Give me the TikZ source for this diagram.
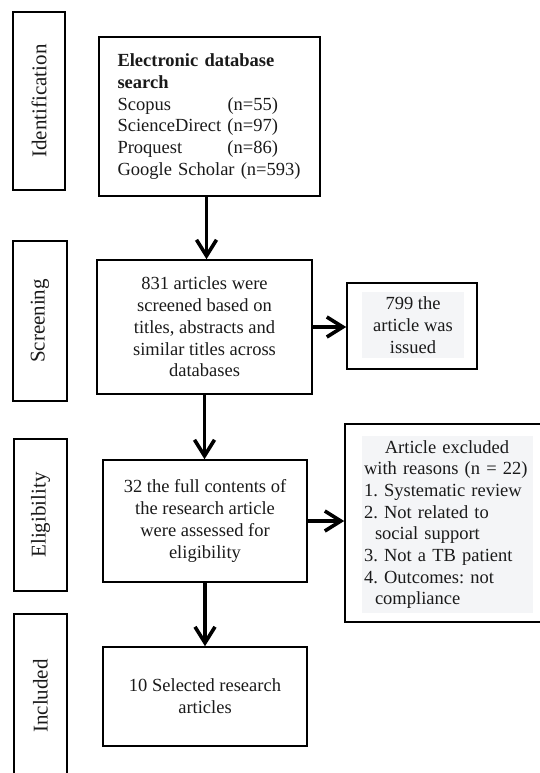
\documentclass[tikz,border=0pt]{standalone}
\usepackage{fontspec}
\setmainfont{Liberation Serif}
\usetikzlibrary{arrows.meta}
\definecolor{panel}{HTML}{F4F5F7}
\definecolor{ink}{HTML}{1A1A1A}

\begin{document}
\frenchspacing
\begin{tikzpicture}[x=1pt, y=-1pt,
		box/.style={draw, line width=1.6pt, inner sep=0pt, align=center, text=ink,
			font=\fontsize{18.5}{21.7}\selectfont},
		panelbox/.style={fill=panel, inner sep=0pt, text=ink,
			font=\fontsize{18.5}{21.7}\selectfont},
		stage/.style={draw, line width=1.6pt, rotate=90, inner sep=0pt, text=ink,
			font=\fontsize{21}{24}\selectfont},
		flow/.style={line width=3.6pt, -{Straight Barb[length=16pt, width=20pt]}}]
	\useasboundingbox (0,0) rectangle (540,773);
	\clip (0,0) rectangle (540,773);

	% stages
	\node[stage, minimum width=178, minimum height=52] (sIdent) at (39, 101) {Identification};
	\node[stage, minimum width=160, minimum height=54] (sScreen) at (40, 321) {Screening};
	\node[stage, minimum width=152, minimum height=53] (sElig) at (40.5, 515) {Eligibility};
	\node[stage, minimum width=164, minimum height=53] (sIncl) at (40.5, 696) {Included};

	% main column
	\node[box, minimum width=221, minimum height=159, text width=184, align=left] (ident) at (209.5, 116.5)
		{\textbf{Electronic database}\\\textbf{search}\\\makebox[110pt][l]{Scopus}(n=55)\\ScienceDirect (n=97)\\\makebox[110pt][l]{Proquest}(n=86)\\Google Scholar (n=593)};
	\node[box, minimum width=215, minimum height=134] (screen) at (204.5, 327)
		{831 articles were\\screened based on\\titles, abstracts and\\similar titles across\\databases};
	\node[box, minimum width=204, minimum height=122] (elig) at (205, 521)
		{32 the full contents of\\the research article\\were assessed for\\eligibility};
	\node[box, minimum width=204, minimum height=99] (incl) at (205, 696.5)
		{10 Selected research\\articles};

	% side boxes
	\node[box, minimum width=130, minimum height=86] (issued) at (412, 326) {};
	\node[panelbox, minimum width=102, minimum height=66, align=center] (issuedTxt) at (413, 325)
		{799 the\\article was\\issued};
	\node[box, minimum width=205, minimum height=198] (excl) at (447.5, 523) {};
	\node[panelbox, minimum width=171, minimum height=177, text width=166, align=left] (exclTxt) at (447, 524.5)
		{\makebox[166pt]{Article excluded}\\with reasons (n = 22)\\1. Systematic review\\2. Not related to\\\hspace*{11pt}social support\\3. Not a TB patient\\4. Outcomes: not\\\hspace*{11pt}compliance};

	\path [flow] ([xshift=-3pt]ident.south) edge ([xshift=-3pt]ident.south |- screen.north);
	\path [flow] (screen.east) edge (screen.east -| issued.west);
	\path [flow] (screen.south) edge (screen.south |- elig.north);
	\path [flow] (elig.east) edge (elig.east -| excl.west);
	\path [flow] (elig.south) edge (incl.north);
\end{tikzpicture}
\end{document}
